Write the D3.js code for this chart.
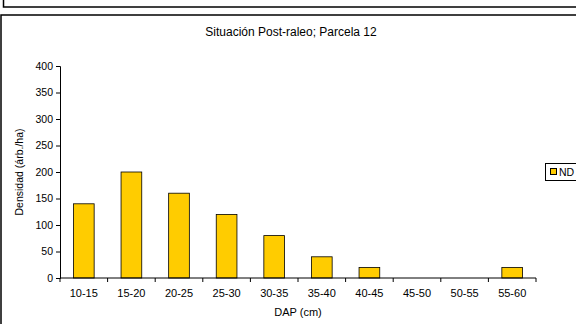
<!DOCTYPE html>
<html>
<head>
<meta charset="utf-8">
<script src="https://cdn.jsdelivr.net/npm/d3@7"></script>
<style>
body { margin: 0; background: #fff; }
text { font-family: "Liberation Sans", Arial, sans-serif; fill: #000; }
</style>
</head>
<body>
<svg id="chart" width="576" height="324"></svg>
<script>
// clases diametricas y densidad
var clases = ["10-15", "15-20", "20-25", "25-30", "30-35", "35-40", "40-45", "45-50", "50-55", "55-60"];
var densidad = [140, 200, 160, 120, 80, 40, 20, 0, 0, 20];
var yTicks = [0, 50, 100, 150, 200, 250, 300, 350, 400];
var serie = "ND";

var svg = d3.select("#chart");
var plotL = 60, plotR = 536, plotT = 66, plotB = 278;

// marcos de fondo
svg.append("rect").attr("x", 3.5).attr("y", -10).attr("width", 600).attr("height", 17)
	.attr("fill", "none").attr("stroke", "#000").attr("stroke-width", 1.5);
svg.append("rect").attr("x", 1).attr("y", 15).attr("width", 600).attr("height", 340)
	.attr("fill", "none").attr("stroke", "#000").attr("stroke-width", 1.5);

var x = d3.scaleBand().domain(clases).range([plotL, plotR]).paddingInner(0.565).paddingOuter(0.565 / 2);
var xb = d3.scaleBand().domain(clases).range([plotL, plotR]);
var y = d3.scaleLinear().domain([0, 400]).range([plotB, plotT]);

svg.append("text").attr("x", 291).attr("y", 36).attr("text-anchor", "middle")
	.style("font-size", "12px").text("Situación Post-raleo; Parcela 12");

// barras
svg.append("g").selectAll("rect")
	.data(densidad)
	.enter().append("rect")
	.attr("x", function(d, i) { return x(clases[i]); })
	.attr("y", function(d) { return y(d); })
	.attr("width", x.bandwidth())
	.attr("height", function(d) { return plotB - y(d); })
	.attr("fill", "#FFCC00")
	.attr("stroke", "#000")
	.attr("stroke-width", 0.8)
	.attr("display", function(d) { return d > 0 ? null : "none"; });

// eje y
var yAxis = svg.append("g").attr("transform", "translate(" + plotL + ",0)")
	.call(d3.axisLeft(y).tickValues(yTicks).tickSize(4).tickPadding(3));
yAxis.selectAll("text").style("font-size", "10.5px");

// eje x con marcas en los limites de las clases
var xAxis = svg.append("g").attr("transform", "translate(0," + plotB + ")");
xAxis.append("line").attr("x1", plotL).attr("x2", plotR).attr("stroke", "#000");
xAxis.selectAll(".tk").data(clases.concat(["fin"]))
	.enter().append("line")
	.attr("x1", function(d, i) { return plotL + i * xb.bandwidth(); })
	.attr("x2", function(d, i) { return plotL + i * xb.bandwidth(); })
	.attr("y1", 0).attr("y2", 4).attr("stroke", "#000");
xAxis.selectAll(".lb").data(clases)
	.enter().append("text")
	.attr("x", function(d) { return xb(d) + xb.bandwidth() / 2; })
	.attr("y", 19).attr("text-anchor", "middle")
	.style("font-size", "11px").text(function(d) { return d; });

svg.append("text").attr("x", 298).attr("y", 316).attr("text-anchor", "middle")
	.style("font-size", "11px").text("DAP (cm)");
svg.append("text").attr("transform", "translate(23,172) rotate(-90)").attr("text-anchor", "middle")
	.style("font-size", "10.5px").text("Densidad (árb./ha)");

// leyenda
var lg = svg.append("g").attr("transform", "translate(545,163)");
lg.append("rect").attr("x", 0.5).attr("y", 0.5).attr("width", 60).attr("height", 17)
	.attr("fill", "#fff").attr("stroke", "#000");
lg.append("rect").attr("x", 5.5).attr("y", 5.5).attr("width", 6).attr("height", 6)
	.attr("fill", "#FFCC00").attr("stroke", "#000");
lg.append("text").attr("x", 14).attr("y", 12.5).style("font-size", "10.5px").text(serie);
</script>
</body>
</html>
